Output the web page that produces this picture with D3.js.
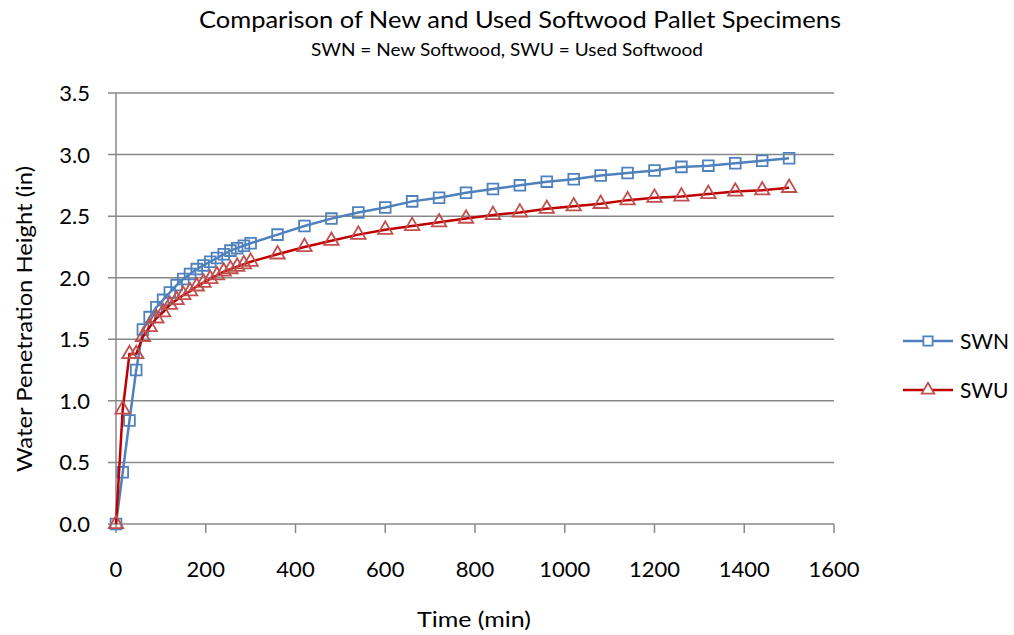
<!DOCTYPE html>
<html><head><meta charset="utf-8">
<script src="https://cdn.jsdelivr.net/npm/d3@7"></script>
<style>body{margin:0;background:#fff}svg{display:block}text{font-family:Lato,"Open Sans",sans-serif;fill:#000}</style>
</head><body><svg id="c" width="1014" height="635"></svg>
<script>
const times = [0,15,30,45,60,75,90,105,120,135,150,165,180,195,210,225,240,255,270,285,300,
  360,420,480,540,600,660,720,780,840,900,960,1020,1080,1140,1200,1260,1320,1380,1440,1500];
const swn = [0,0.42,0.84,1.25,1.58,1.68,1.76,1.82,1.88,1.94,1.99,2.03,2.07,2.10,2.13,2.16,2.19,2.22,2.24,2.26,2.28,
  2.35,2.42,2.48,2.53,2.57,2.62,2.65,2.69,2.72,2.75,2.78,2.80,2.83,2.85,2.87,2.90,2.91,2.93,2.95,2.97];
const swu = [0,0.93,1.38,1.38,1.52,1.60,1.67,1.72,1.78,1.82,1.86,1.89,1.93,1.96,1.99,2.02,2.05,2.07,2.09,2.11,2.13,
  2.19,2.25,2.30,2.35,2.39,2.42,2.45,2.48,2.51,2.53,2.56,2.58,2.60,2.63,2.65,2.66,2.68,2.70,2.71,2.73];
const xTicks = [0,200,400,600,800,1000,1200,1400,1600];
const yTicks = [0,0.5,1.0,1.5,2.0,2.5,3.0,3.5];
const seriesNames = ["SWN","SWU"];
const title = "Comparison of New and Used Softwood Pallet Specimens";
const subtitle = "SWN = New Softwood, SWU = Used Softwood";
const xTitle = "Time (min)";
const yTitle = "Water Penetration Height (in)";

const svg = d3.select("#c");
const L=116, R=834, T=93, B=524;
const x = d3.scaleLinear().domain([0,1600]).range([L,R]);
const y = d3.scaleLinear().domain([0,3.5]).range([B,T]);
const grid = "#888";

svg.append("g").selectAll("line").data(yTicks).join("line")
  .attr("x1",L-8).attr("x2",R).attr("y1",d=>y(d)).attr("y2",d=>y(d))
  .attr("stroke",grid).attr("stroke-width",1.5);
svg.append("line").attr("x1",L).attr("x2",L).attr("y1",T).attr("y2",B).attr("stroke",grid).attr("stroke-width",1.5);
svg.append("g").selectAll("line").data(xTicks).join("line")
  .attr("x1",d=>x(d)).attr("x2",d=>x(d)).attr("y1",B).attr("y2",B+9)
  .attr("stroke",grid).attr("stroke-width",1.5);
svg.append("g").selectAll("text").data(yTicks).join("text")
  .attr("x",90).attr("y",d=>y(d)+8).attr("text-anchor","end").attr("font-size",22)
  .text(d=>d3.format(".1f")(d));
svg.append("g").selectAll("text").data(xTicks).join("text")
  .attr("x",d=>x(d)).attr("y",577).attr("text-anchor","middle").attr("font-size",22)
  .text(d=>d);
svg.append("text").attr("x",474).attr("y",627).attr("text-anchor","middle").attr("font-size",22)
  .attr("textLength",114).attr("lengthAdjust","spacingAndGlyphs").text(xTitle);
svg.append("text").attr("transform","translate(32,319) rotate(-90)").attr("text-anchor","middle").attr("font-size",22)
  .attr("textLength",306).attr("lengthAdjust","spacingAndGlyphs").text(yTitle);
svg.append("text").attr("x",520).attr("y",28).attr("text-anchor","middle").attr("font-size",23)
  .attr("textLength",642).attr("lengthAdjust","spacingAndGlyphs").text(title);
svg.append("text").attr("x",507).attr("y",56).attr("text-anchor","middle").attr("font-size",18)
  .attr("textLength",392).attr("lengthAdjust","spacingAndGlyphs").text(subtitle);

const series = [
  {name:seriesNames[0], vals:swn, line:"#4F81BD", mark:"#4F81BD", sym:d3.symbolSquare, size:115},
  {name:seriesNames[1], vals:swu, line:"#C00000", mark:"#C0504D", sym:d3.symbolTriangle, size:90}
];
const lineGen = d3.line().x((d,i)=>x(times[i])).y(d=>y(d));
series.forEach((s,k)=>{
  svg.append("path").datum(s.vals).attr("d",lineGen).attr("fill","none").attr("stroke",s.line).attr("stroke-width",2.5);
  svg.append("g").selectAll("path").data(s.vals).join("path")
    .attr("transform",(d,i)=>`translate(${x(times[i])},${y(d)})`)
    .attr("d",d3.symbol().type(s.sym).size(s.size)())
    .attr("fill","none").attr("stroke",s.mark).attr("stroke-width",1.8);
  const ly = 341 + k*49;
  svg.append("line").attr("x1",903).attr("x2",953).attr("y1",ly).attr("y2",ly).attr("stroke",s.line).attr("stroke-width",2.5);
  svg.append("path").attr("transform",`translate(928,${ly})`).attr("d",d3.symbol().type(s.sym).size(s.size*0.75)())
    .attr("fill","#fff").attr("stroke",s.mark).attr("stroke-width",1.8);
  svg.append("text").attr("x",960).attr("y",ly+8).attr("font-size",21).text(s.name);
});
</script></body></html>
